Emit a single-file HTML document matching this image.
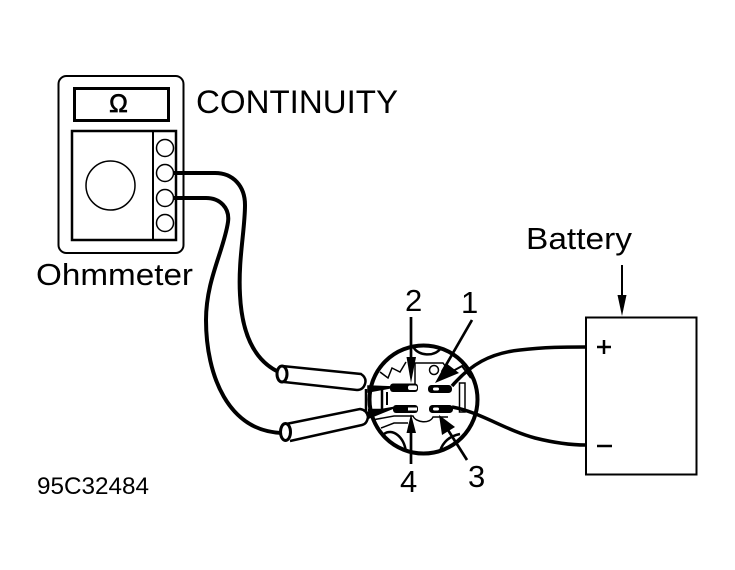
<!DOCTYPE html>
<html><head><meta charset="utf-8"><style>
html,body{margin:0;padding:0;background:#fff;width:735px;height:570px;overflow:hidden}
svg{display:block}
text{font-family:"Liberation Sans",sans-serif;fill:#000}
</style></head><body>
<svg width="735" height="570" viewBox="0 0 735 570" fill="none" stroke="#000" stroke-width="2">
<!-- meter -->
<rect x="58.500" y="76" width="125" height="177" rx="8" stroke-width="2"/>
<rect x="74.500" y="88.500" width="94" height="32" stroke-width="3"/>
<rect x="72" y="131" width="104" height="109" stroke-width="2.500"/>
<line x1="153" y1="131" x2="153" y2="240" stroke-width="2"/>
<circle cx="110.500" cy="185.500" r="24.500" stroke-width="1.500"/>
<circle cx="165" cy="148" r="8.500" stroke-width="1.500"/>
<circle cx="165" cy="173" r="8.500" stroke-width="1.500"/>
<circle cx="165" cy="198" r="8.500" stroke-width="1.500"/>
<circle cx="165" cy="223" r="8.500" stroke-width="1.500"/>
<text x="118.500" y="112" font-size="25" text-anchor="middle" stroke="#000" stroke-width="0.700">Ω</text>
<!-- wires from meter -->
<path d="M173 173 H215 C233 173 245 186 245 205 C245 230 238 260 240 295 C242 335 255 362 281 373" stroke-width="4"/>
<path d="M173 198 H206 C220 198 230 208 228 222 C224 250 206 280 206 320 C206 375 228 432 283 433" stroke-width="4"/>
<!-- probes -->
<path d="M282 366 L361 374 Q367 378 365 384 Q363 390 357 390 L284 382" stroke-width="2.500" fill="#fff"/>
<ellipse cx="282" cy="374" rx="5" ry="8" stroke-width="3" fill="#fff"/>
<path d="M286 424 L360 409 Q367 410 368 417 Q367 424 362 425 L290 441" stroke-width="2.500" fill="#fff"/>
<ellipse cx="285.500" cy="432" rx="5" ry="8.500" stroke-width="3" fill="#fff"/>
<!-- connector -->
<circle cx="423.500" cy="399.500" r="54" stroke-width="4" fill="none"/>
<path d="M368 386 L395 387 L368 392 Z M368 412 L396 407 L369 418 Z" fill="#000" stroke="#000" stroke-width="1.500"/>
<path d="M366 389 V411 M368 388 H382 V410 H368" stroke-width="2.500"/>
<path d="M387 392 V405" stroke-width="2"/>
<path d="M414 348 C418 355 434 358 441 348 M384 434 C392 428 404 436 406 452 M440 451 C443 442 450 436 460 434" stroke-width="2.500"/>
<path d="M415 385 V363 H443 L448 370 M380 372 L388 378 L392 368 L400 372 L406 362" stroke-width="1.500"/>
<circle cx="434" cy="370" r="4.500" stroke-width="1.500"/>
<rect x="459.500" y="383" width="5.500" height="29" stroke-width="1.500"/>
<path d="M453 371 L462 366 L471 378" stroke-width="2"/>
<path d="M372 420 L394 416 H413 C416 423 430 424 433 417 H448 M381 428 L394 423 H408" stroke-width="1.500"/>
<rect x="390" y="383.500" width="28" height="8.500" rx="3" fill="#000" stroke="none"/>
<rect x="408" y="385.500" width="9" height="4.500" rx="2" fill="#fff" stroke="none"/>
<rect x="428" y="385" width="24" height="8" rx="3.500" fill="#000" stroke="none"/>
<rect x="433" y="387.500" width="6" height="3" rx="1.500" fill="#fff" stroke="none"/>
<rect x="393" y="405" width="25" height="8" rx="3" fill="#000" stroke="none"/>
<rect x="408" y="407.500" width="9" height="3" fill="#fff" stroke="none"/>
<rect x="429" y="405" width="24" height="8" rx="3.500" fill="#000" stroke="none"/>
<rect x="433" y="407.500" width="6" height="3" rx="1.500" fill="#fff" stroke="none"/>
<!-- leader arrows -->
<line x1="411" y1="317" x2="411" y2="375" stroke-width="2.700"/>
<path d="M406.500 357 L411 383 L416 357 Z" fill="#000" stroke="none"/>
<line x1="472" y1="320" x2="442" y2="372" stroke-width="2.700"/>
<path d="M435 383 L446 363 L459 373 Z" fill="#000" stroke="none"/>
<line x1="411" y1="425" x2="411" y2="464" stroke-width="2.700"/>
<path d="M406.500 433 L411 414 L416 433 Z" fill="#000" stroke="none"/>
<line x1="448" y1="430" x2="467" y2="460" stroke-width="2.700"/>
<path d="M439 415 L455 427 L442 435 Z" fill="#000" stroke="none"/>
<!-- battery wires -->
<path d="M452 386 C470 365 490 353 520 350 C545 347 565 347 586 347" stroke-width="3.500"/>
<path d="M452 407 C480 412 505 430 535 438 C555 443 570 445 586 445" stroke-width="3.500"/>
<!-- battery -->
<rect x="586" y="317.500" width="110.500" height="157" stroke-width="2"/>
<line x1="622" y1="265" x2="622" y2="305" stroke-width="2"/>
<path d="M617.500 295 L622 316 L626.500 295 Z" fill="#000" stroke="none"/>
<path d="M597 347 H611 M604 340 V354" stroke-width="2.500"/>
<path d="M597 446 H612" stroke-width="2.500"/>
<!-- labels -->
<g stroke="none">
<text x="196" y="113" font-size="32" textLength="202" lengthAdjust="spacingAndGlyphs">CONTINUITY</text>
<text x="36" y="285" font-size="31" textLength="157" lengthAdjust="spacingAndGlyphs">Ohmmeter</text>
<text x="526" y="249" font-size="31" textLength="106" lengthAdjust="spacingAndGlyphs">Battery</text>
<text x="405" y="311" font-size="31">2</text>
<text x="461" y="313" font-size="31">1</text>
<text x="400" y="492" font-size="31">4</text>
<text x="468" y="487" font-size="31">3</text>
<text x="37" y="494" font-size="24" textLength="112" lengthAdjust="spacingAndGlyphs">95C32484</text>
</g>
</svg>
</body></html>
